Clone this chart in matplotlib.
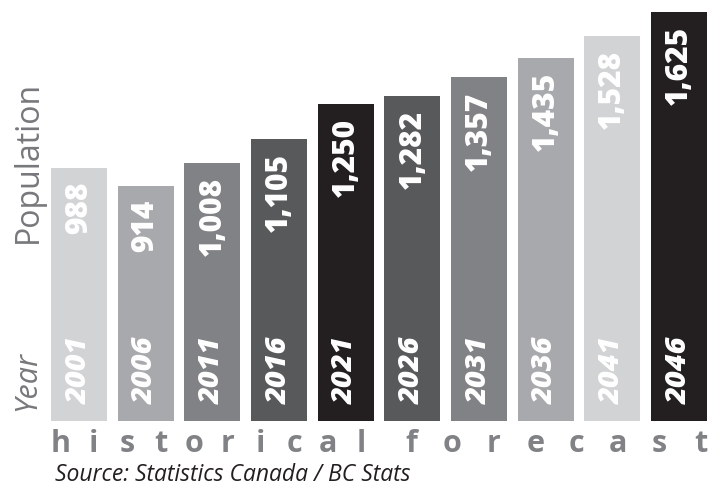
import matplotlib
matplotlib.use("Agg")
import matplotlib.pyplot as plt
import numpy as np

# ---- data ----
years = ["2001", "2006", "2011", "2016", "2021", "2026", "2031", "2036", "2041", "2046"]
population = [988, 914, 1008, 1105, 1250, 1282, 1357, 1435, 1528, 1625]
bar_colors = ["#d1d3d4", "#a7a9ac", "#808285", "#58595b", "#231f20",
              "#58595b", "#808285", "#a7a9ac", "#d1d3d4", "#231f20"]
value_labels = [f"{v:,}" for v in population]
phase_words = ["historical", "forecast"]
source_text = "Source: Statistics Canada / BC Stats"
y_title = "Population"
x_title = "Year"

FONT = "Open Sans"
W, H = 721, 488
fig = plt.figure(figsize=(W / 100, H / 100), dpi=100)

# axes placed so slot i spans the bar column
ax = fig.add_axes([45.7 / W, (H - 421) / H, 666.6 / W, 421 / H])
base = -45
x = np.arange(len(years))
ax.bar(x, [v - base for v in population], bottom=base, width=0.84,
       color=bar_colors, linewidth=0)
ax.set_xlim(-0.5, len(years) - 0.5)
ax.set_ylim(base, 1673)
ax.axis("off")

for i, (yr, v, lbl) in enumerate(zip(years, population, value_labels)):
    ax.annotate(lbl, (i, v), xytext=(0, -10), textcoords="offset points",
                rotation=90, ha="center", va="top", color="white",
                fontsize=21.5, fontweight=800, family=FONT)
    ax.annotate(yr, (i, base), xytext=(0, 12.5), textcoords="offset points",
                rotation=90, ha="center", va="bottom", color="white",
                fontsize=21, fontweight=800, fontstyle="italic", family=FONT)

fig.text(28 / W, 1 - 162 / H, y_title, rotation=90, ha="center", va="center",
         fontsize=23, color="#77787b", family=FONT)
fig.text(27 / W, 1 - 381 / H, x_title, rotation=90, ha="center", va="center",
         fontsize=22, color="#77787b", fontstyle="italic", family=FONT)

# spaced-out phase words
spans = [(60.5, 361), (411, 701)]
for word, (a, b) in zip(phase_words, spans):
    xs = np.linspace(a, b, len(word))
    for ch, xc in zip(word, xs):
        fig.text(xc / W, 1 - 452 / H, ch, ha="center", va="baseline",
                 fontsize=22, fontweight="bold", color="#808285", family=FONT)

fig.text(55 / W, 1 - 481 / H, source_text, ha="left", va="baseline",
         fontsize=16.5, fontstyle="italic", color="#231f20", family=FONT)

fig.savefig("out.png", dpi=100)
